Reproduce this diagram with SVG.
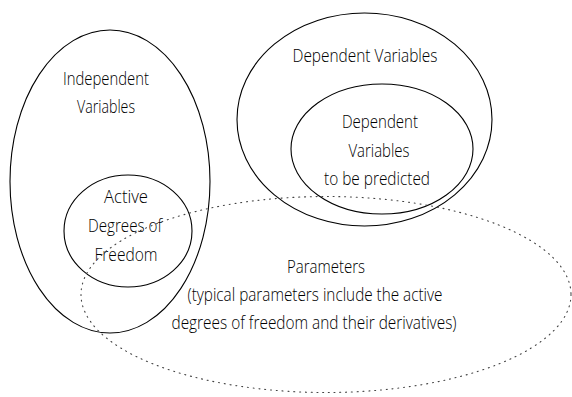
<svg xmlns="http://www.w3.org/2000/svg" width="572" height="397" viewBox="0 0 572 397">
<style>
.e{fill:none;stroke:#000;stroke-width:1.1}
.d{fill:none;stroke:#444;stroke-width:1.1;stroke-dasharray:1 4.8;stroke-linecap:round}
text{font-family:"Open Sans","Liberation Sans",Arial,sans-serif;font-weight:300;font-size:17.5px;fill:#000;text-anchor:middle}
</style>
<rect width="572" height="397" fill="#fff"/>
<g id="independent">
<ellipse class="e" cx="110" cy="181.5" rx="100" ry="151.5"/>
<text x="106" y="85" textLength="86" lengthAdjust="spacingAndGlyphs">Independent</text>
<text x="106" y="113" textLength="58" lengthAdjust="spacingAndGlyphs">Variables</text>
</g>
<g id="active-dof">
<ellipse class="e" cx="128" cy="231" rx="64" ry="56"/>
<text x="126" y="203" textLength="44" lengthAdjust="spacingAndGlyphs">Active</text>
<text x="125" y="232" textLength="74" lengthAdjust="spacingAndGlyphs">Degrees of</text>
<text x="126" y="261" textLength="63" lengthAdjust="spacingAndGlyphs">Freedom</text>
</g>
<g id="dependent">
<ellipse class="e" cx="364.5" cy="119.5" rx="127.5" ry="106.5"/>
<text x="365" y="62" textLength="145" lengthAdjust="spacingAndGlyphs">Dependent Variables</text>
</g>
<g id="dependent-predicted">
<ellipse class="e" cx="382" cy="149" rx="91" ry="65"/>
<text x="380" y="128" textLength="76" lengthAdjust="spacingAndGlyphs">Dependent</text>
<text x="379" y="157" textLength="61" lengthAdjust="spacingAndGlyphs">Variables</text>
<text x="377" y="185" textLength="106" lengthAdjust="spacingAndGlyphs">to be predicted</text>
</g>
<g id="parameters">
<ellipse class="d" cx="326" cy="294.5" rx="245" ry="98"/>
<text x="326" y="273" textLength="78" lengthAdjust="spacingAndGlyphs">Parameters</text>
<text x="315" y="301" textLength="255" lengthAdjust="spacingAndGlyphs">(typical parameters include the active</text>
<text x="314" y="329" textLength="285" lengthAdjust="spacingAndGlyphs">degrees of freedom and their derivatives)</text>
</g>
<g id="connectors"></g>
</svg>
